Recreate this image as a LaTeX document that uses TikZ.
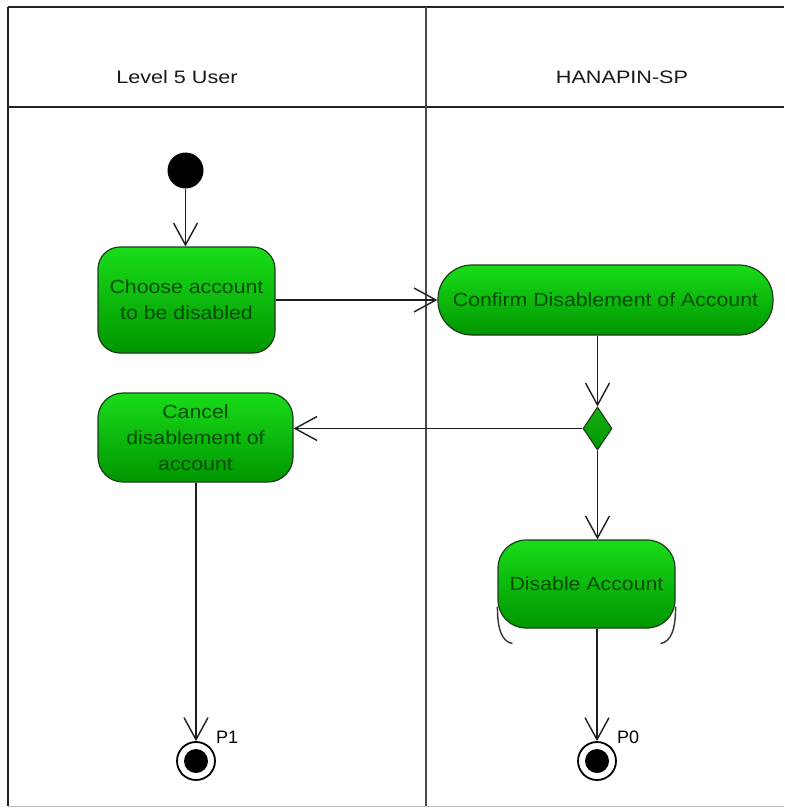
\documentclass[tikz,border=0pt]{standalone}
\usepackage{fontspec}
\setmainfont{Liberation Sans}
\newfontfamily\lanefont[FakeStretch=1.2]{Liberation Sans}
\newfontfamily\actfont[FakeStretch=1.12]{Liberation Sans}
\usetikzlibrary{arrows.meta,shapes.geometric,calc}

\definecolor{edgegray}{RGB}{30,30,30}
\definecolor{framegray}{RGB}{35,35,35}
\definecolor{actborder}{RGB}{25,60,25}
\definecolor{acttop}{RGB}{25,220,25}
\definecolor{actbottom}{RGB}{0,150,0}
\definecolor{acttext}{RGB}{0,75,0}

\tikzset{
  lanetitle/.style={font=\lanefont\fontsize{18}{22}\selectfont, text=black!90},
  activity/.style={draw=actborder, line width=1.2pt, top color=acttop, bottom color=actbottom,
    font=\actfont\fontsize{19}{26}\selectfont, text=acttext, align=center, inner sep=0pt},
  initnode/.style={circle, fill=black, minimum size=36pt, inner sep=0pt},
  finalnode/.style={circle, draw=black, line width=1.8pt, fill=white, minimum size=38pt, inner sep=0pt},
  decision/.style={diamond, draw=actborder, line width=1.1pt, top color=acttop!80!black, bottom color=actbottom,
    minimum width=29pt, minimum height=43pt, inner sep=0pt},
  flow/.style={draw=edgegray, line width=1.4pt, -{Straight Barb[length=22pt,width=24pt,line width=1.4pt]}},
  bracket/.style={draw=black!80, line width=1.4pt},
  finlabel/.style={font=\fontsize{18}{20}\selectfont, anchor=west, inner sep=0pt},
}

\begin{document}
\begin{tikzpicture}[x=1pt,y=-1pt]
  \useasboundingbox[fill=white] (0,0) rectangle (784,808);

  % swimlane frame
  \draw[framegray, line width=2pt] (8,7) -- (784,7);
  \draw[framegray, line width=2pt] (8,107) -- (784,107);
  \draw[framegray, line width=1.6pt] (8,7) -- (8,806);
  \draw[black!70, line width=1.6pt] (426,7) -- (426,806);
  \draw[black!25, line width=1pt] (8,806) -- (784,806);

  \node[lanetitle] (lane1) at (177,77) {Level 5 User};
  \node[lanetitle] (lane2) at (622,77) {HANAPIN-SP};

  % activities
  \node[initnode] (init) at (185.5,170.5) {};
  \node[activity, minimum width=177pt, minimum height=106pt, rounded corners=22pt] (choose) at (186.5,300)
    {Choose account\\to be disabled};
  \node[activity, minimum width=335pt, minimum height=70pt, rounded corners=34pt] (confirm) at (605.5,300)
    {Confirm Disablement of Account};
  \node[activity, minimum width=195pt, minimum height=89pt, rounded corners=25pt] (cancel) at (195.5,437.5)
    {Cancel\\disablement of\\account};
  \node[decision] (dec) at (597.5,428.5) {};
  \node[activity, minimum width=177pt, minimum height=88pt, rounded corners=28pt] (disable) at (586.5,584)
    {Disable Account};

  % brackets below the disable activity
  \draw[bracket] ($(disable.south west)+(0,-22)$)
    .. controls ($(disable.south west)+(0,2)$) and ($(disable.south west)+(5,13)$) .. ($(disable.south west)+(15,15)$);
  \draw[bracket] ($(disable.south east)+(0,-22)$)
    .. controls ($(disable.south east)+(0,2)$) and ($(disable.south east)+(-5,13)$) .. ($(disable.south east)+(-15,15)$);

  % final nodes
  \node[finalnode] (fin1) at (196,761) {};
  \fill[black] (fin1.center) circle (12);
  \node[finalnode] (fin0) at (597,761) {};
  \fill[black] (fin0.center) circle (12);
  \node[finlabel] (p1) at (216,737) {P1};
  \node[finlabel] (p0) at (617,737) {P0};

  % control flow
  \draw[flow] (init) -- (init |- choose.north);
  \draw[flow] (choose) -- (confirm);
  \draw[flow] (dec |- confirm.south) -- (dec.north);
  \draw[flow] (dec.west) -- (dec.west -| cancel.east);
  \draw[flow] (dec.south) -- (dec.south |- disable.north);
  \draw[flow] (cancel.south -| fin1) -- (fin1.north);
  \draw[flow] (disable.south -| fin0) -- (fin0.north);
\end{tikzpicture}
\end{document}
